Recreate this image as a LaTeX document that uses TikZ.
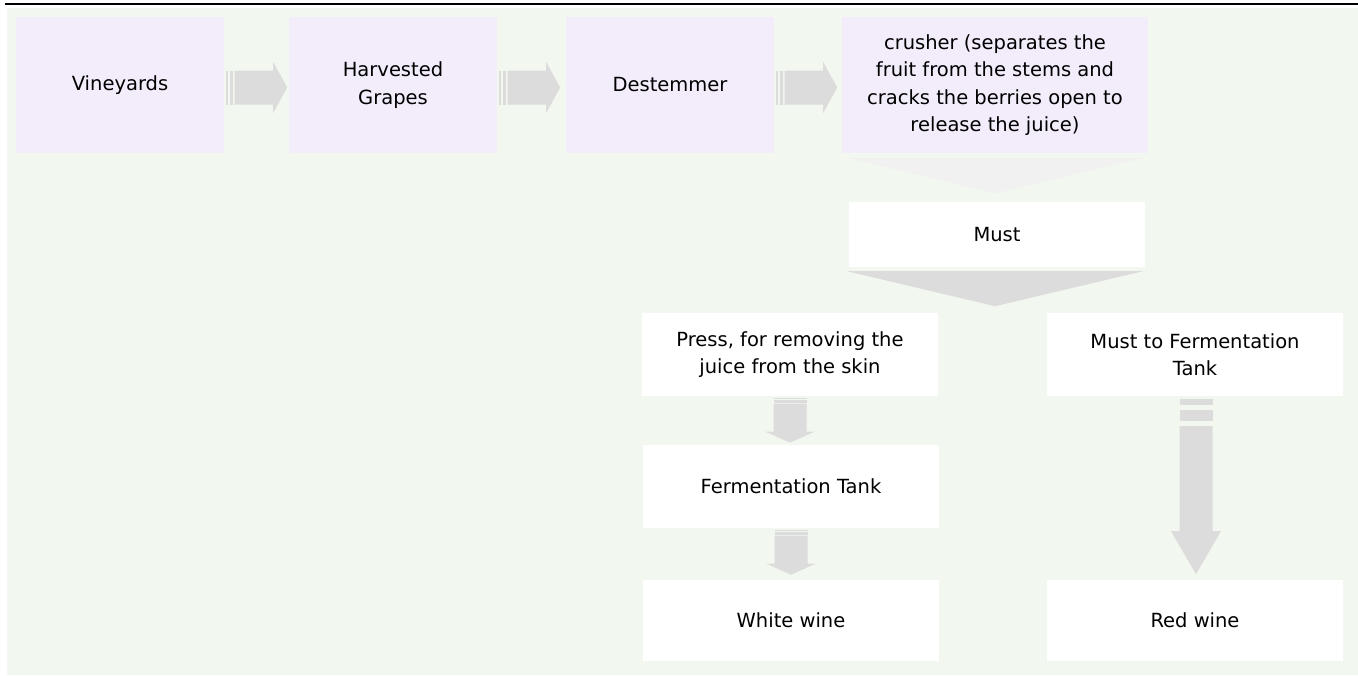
\documentclass[tikz,border=0pt]{standalone}
\usepackage{fontspec}
\setmainfont{DejaVu Sans}
\usetikzlibrary{calc}
\definecolor{bggreen}{RGB}{242,247,239}
\definecolor{lav}{RGB}{243,236,250}
\definecolor{agray}{RGB}{220,220,220}
\definecolor{lgray}{RGB}{240,241,240}
\tikzset{
  box/.style={rectangle, inner sep=0pt, align=center, minimum height=83pt,
    font=\fontsize{19.5}{27.5}\selectfont, text=black},
  topbox/.style={box, fill=lav, minimum height=136pt},
  wbox/.style={box, fill=white, minimum width=296pt},
  arr/.style={fill=agray, draw=none},
}
\newcommand\hstriped[1]{%
  \begin{scope}[shift={(#1)}, shift={(2,2.5)}]
    \fill[arr] (0,-17) rectangle (2,17);
    \fill[arr] (3.5,-17) rectangle (7,17);
    \fill[arr] (8.5,-17) -- (47,-17) -- (47,-25.5) -- (61,0) -- (47,25.5) -- (47,17) -- (8.5,17) -- cycle;
  \end{scope}}
\newcommand\vsmall[1]{%
  \begin{scope}[shift={(#1)}, shift={(0,1.5)}]
    \fill[arr] (-16.5,0) rectangle (16.5,1.5);
    \fill[arr] (-16.5,2.5) rectangle (16.5,5);
    \fill[arr] (-16.5,6) -- (-16.5,34) -- (-24.5,34) -- (0,45) -- (24.5,34) -- (16.5,34) -- (16.5,6) -- cycle;
  \end{scope}}
\begin{document}
\begin{tikzpicture}[x=1pt, y=-1pt]
\useasboundingbox (0,0) rectangle (1358,675);
\fill[bggreen] (7,8) rectangle (1358,675);
\draw[line width=2pt] (5,4) -- (1358,4);
% top row
\node[topbox, minimum width=208pt] (vine) at (120,85) {Vineyards};
\node[topbox, minimum width=208pt] (harv) at (393,85) {Harvested\\Grapes};
\node[topbox, minimum width=208pt] (dest) at (670,85) {Destemmer};
\node[topbox, minimum width=306pt] (crush) at (995,85) {crusher (separates the\\fruit from the stems and\\cracks the berries open to\\release the juice)};
% lower boxes
\node[wbox, minimum height=65pt] (must) at (997,234.5) {Must};
\node[wbox] (press) at (790,354.5) {Press, for removing the\\juice from the skin};
\node[wbox] (mft) at (1195,354.5) {Must to Fermentation\\Tank};
\node[wbox] (ferm) at (791,486.5) {Fermentation Tank};
\node[wbox, minimum height=81pt] (white) at (791,620.5) {White wine};
\node[wbox, minimum height=81pt] (red) at (1195,620.5) {Red wine};
% horizontal arrows
\hstriped{vine.east}
\hstriped{harv.east}
\hstriped{dest.east}
% chevrons
\fill[lgray] ($(crush.south)+(-146,5)$) -- ($(crush.south)+(147,5)$) -- ($(crush.south)+(0,40)$) -- cycle;
\fill[arr] ($(must.south)+(-150,4)$) -- ($(must.south)+(146,4)$) -- ($(must.south)+(-2,39)$) -- cycle;
% vertical arrows left column
\vsmall{press.south}
\vsmall{ferm.south}
% long red arrow
\begin{scope}[shift={(mft.south)}, shift={(1,3)}]
  \fill[arr] (-16.5,0) rectangle (16.5,6);
  \fill[arr] (-16.5,11) rectangle (16.5,22);
  \fill[arr] (-16.5,27) -- (-16.5,132) -- (-25,132) -- (0,175) -- (25,132) -- (16.5,132) -- (16.5,27) -- cycle;
\end{scope}
\end{tikzpicture}
\end{document}
